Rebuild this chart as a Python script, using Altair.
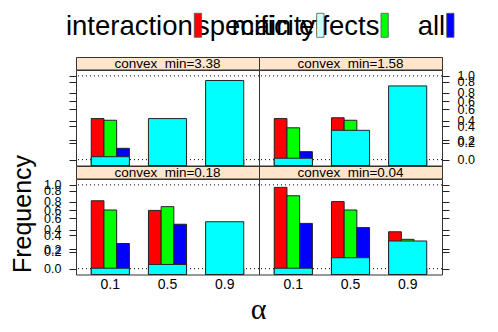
import altair as alt
import pandas as pd

# ---------------- data ----------------
PANELS = ["convex_min=3.38", "convex_min=1.58", "convex_min=0.18", "convex_min=0.04"]
ALPHAS = ["0.1", "0.5", "0.9"]
NARROW = ["interaction", "main effects", "all"]
NARROW_COLORS = ["#ff0000", "#00ff00", "#0000ff"]

# values listed panel by panel, alpha 0.1, 0.5, 0.9 in each panel
interaction  = [0.49, 0.00, 0.00,  0.49, 0.50, 0.00,  0.81, 0.695, 0.00,  0.97, 0.80, 0.44]
main_effects = [0.47, 0.00, 0.00,  0.38, 0.47, 0.00,  0.70, 0.74, 0.00,   0.87, 0.70, 0.35]
all_effects  = [0.135, 0.00, 0.00, 0.095, 0.00, 0.00, 0.30, 0.53, 0.00,   0.54, 0.49, 0.00]
specificity  = [0.035, 0.49, 0.945, 0.017, 0.35, 0.88, 0.005, 0.05, 0.56, 0.005, 0.13, 0.33]

LEGEND_LABELS = ["interaction", "specificity", "main effects", "all"]
LEGEND_COLORS = ["#ff0000", "#ccffff", "#00ff00", "#0000ff"]

Y_TICKS = [0.0, 0.2, 0.4, 0.6, 0.8, 1.0]
Y_TICKS_SHIFTED = [0.232, 0.464, 0.696, 0.928]   # second, offset tick set (labels 0.2..0.8)
Y_DOMAIN = [-0.07, 1.07]

# ---------------- layout / style ----------------
FONT = "Liberation Sans"
PW, PH, SH = 183, 95.5, 12.5        # panel width, panel height, strip height
LEFT_W = 67.5
LEG_H = 48.5
BOTTOM_H = 50
LEG_SWATCH_X = [186.3, 308.7, 373.0, 438.7]
SW_W = 7.3

narrow_rows, wide_rows = [], []
for pi, p in enumerate(PANELS):
    for ai, a in enumerate(ALPHAS):
        k = pi * 3 + ai
        for s, vals in zip(NARROW, [interaction, main_effects, all_effects]):
            narrow_rows.append({"panel": p, "alpha": a, "series": s, "value": vals[k]})
        wide_rows.append({"panel": p, "alpha": a, "series": "specificity", "value": specificity[k]})
narrow_df = pd.DataFrame(narrow_rows)
wide_df = pd.DataFrame(wide_rows)
ref_df = pd.DataFrame({"y": [0.0, 1.0]})
one = pd.DataFrame({"a": [0]})

yscale = alt.Scale(domain=Y_DOMAIN, nice=False, zero=False)
xscale = alt.Scale(domain=ALPHAS, paddingInner=1 / 3, paddingOuter=0.2667)
label_expr = ("abs(datum.value*5 - round(datum.value*5)) < 0.01 ? "
              "format(datum.value, '.1f') : format(datum.value/1.16, '.1f')")


def blank(w, h):
    return alt.Chart(one).mark_point(opacity=0, size=1).encode(
        x=alt.value(w / 2), y=alt.value(h / 2)
    ).properties(width=w, height=h, view=alt.ViewBackground(stroke=None))


def panel(p, yorient, ylabels, xlabels):
    yaxis = alt.Axis(orient=yorient, values=Y_TICKS + Y_TICKS_SHIFTED, labels=ylabels,
                     labelExpr=label_expr, tickSize=7, labelPadding=8, domain=False,
                     grid=False, title=None, labelFontSize=12.5, labelFont=FONT,
                     labelColor="black", tickColor="#222", labelOverlap=False,
                     labelFlush=False, labelBound=False)
    if xlabels:
        xaxis = alt.Axis(orient="bottom", ticks=False, tickSize=0, labelPadding=3,
                         domain=False, grid=False, title=None, labelAngle=0,
                         labelFontSize=14, labelFont=FONT, labelColor="black",
                         labelFontWeight="normal")
    else:
        xaxis = None
    rules = alt.Chart(ref_df).mark_rule(color="black", strokeDash=[1, 3], strokeWidth=1).encode(
        y=alt.Y("y:Q", scale=yscale, axis=yaxis)
    )
    nb = alt.Chart(narrow_df[narrow_df.panel == p]).mark_bar(stroke="#222", strokeWidth=1).encode(
        x=alt.X("alpha:N", scale=xscale, axis=xaxis, sort=ALPHAS),
        xOffset=alt.XOffset("series:N", sort=NARROW,
                            scale=alt.Scale(domain=NARROW, paddingInner=0, paddingOuter=0)),
        y=alt.Y("value:Q", scale=yscale, axis=yaxis),
        y2=alt.datum(Y_DOMAIN[0]),
        color=alt.Color("series:N", scale=alt.Scale(domain=NARROW, range=NARROW_COLORS), legend=None),
    )
    wb = alt.Chart(wide_df[wide_df.panel == p]).mark_bar(stroke="#222", strokeWidth=1, color="#00ffff").encode(
        x=alt.X("alpha:N", scale=xscale, axis=xaxis, sort=ALPHAS),
        y=alt.Y("value:Q", scale=yscale, axis=yaxis),
        y2=alt.datum(Y_DOMAIN[0]),
    )
    return alt.layer(rules, nb, wb).properties(
        width=PW, height=PH, view=alt.ViewBackground(stroke="#333", strokeWidth=1, fill="white")
    )


def strip(p):
    return alt.Chart(pd.DataFrame({"label": [p]})).mark_text(
        font=FONT, fontSize=13.5, color="black", baseline="middle", align="center"
    ).encode(text="label:N", x=alt.value(PW / 2), y=alt.value(SH / 2 + 0.5)).properties(
        width=PW, height=SH, view=alt.ViewBackground(fill="#ffe5cc", stroke="#333", strokeWidth=1)
    )


# legend (drawn from the top-left cell, overflowing to the right)
leg_df = pd.DataFrame({"label": LEGEND_LABELS, "color": LEGEND_COLORS,
                       "x": LEG_SWATCH_X, "x2": [v + SW_W for v in LEG_SWATCH_X]})
leg_text = alt.Chart(leg_df).mark_text(
    font=FONT, fontSize=27.5, align="right", baseline="alphabetic", dx=-1.5, color="black"
).encode(x=alt.X("x:Q", scale=None), y=alt.value(27), text="label:N")
leg_rect = alt.Chart(leg_df).mark_rect(stroke="#555", strokeWidth=0.8).encode(
    x=alt.X("x:Q", scale=None), x2="x2:Q", y=alt.value(5.3), y2=alt.value(29.3),
    fill=alt.Fill("color:N", scale=None),
)
legend = alt.layer(leg_text, leg_rect).properties(
    width=LEFT_W, height=LEG_H, view=alt.ViewBackground(stroke=None)
)

ytitle = alt.Chart(pd.DataFrame({"t": ["Frequency"]})).mark_text(
    font=FONT, fontSize=25, angle=270, baseline="middle", align="center", color="black"
).encode(text="t:N", x=alt.value(14.5), y=alt.value(35)).properties(
    width=LEFT_W, height=PH, view=alt.ViewBackground(stroke=None)
)

xtitle = alt.Chart(pd.DataFrame({"t": ["α"]})).mark_text(
    font="Liberation Serif", fontSize=30, baseline="middle", align="center", color="black"
).encode(text="t:N", x=alt.value(LEFT_W + PW), y=alt.value(35)).properties(
    width=LEFT_W, height=BOTTOM_H, view=alt.ViewBackground(stroke=None)
)

cells = [
    legend, blank(PW, LEG_H), blank(PW, LEG_H),
    blank(LEFT_W, SH), strip(PANELS[0]), strip(PANELS[1]),
    blank(LEFT_W, PH), panel(PANELS[0], "left", False, False), panel(PANELS[1], "right", True, False),
    blank(LEFT_W, SH), strip(PANELS[2]), strip(PANELS[3]),
    ytitle, panel(PANELS[2], "left", True, True), panel(PANELS[3], "right", False, True),
    xtitle, blank(PW, BOTTOM_H), blank(PW, BOTTOM_H),
]

chart = alt.concat(*cells, columns=3, spacing=0, bounds="flush").properties(
    padding=0, background="white"
).configure_view(stroke=None)

chart.save("out.html", embed_options={"renderer": "svg", "actions": False})
